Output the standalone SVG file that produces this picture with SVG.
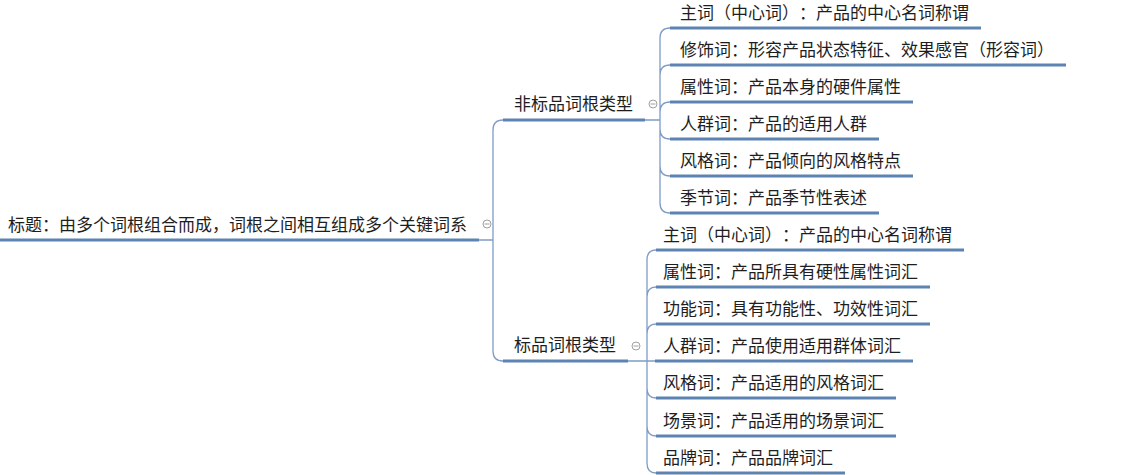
<svg xmlns="http://www.w3.org/2000/svg" width="1130" height="475" viewBox="0 0 1130 475">
<style>
text{font-family:"Noto Sans CJK SC","Microsoft YaHei",sans-serif;font-size:17px;fill:#1e1e1e;text-spacing-trim:space-all}
.ul{stroke:#5d83b3;stroke-width:3;fill:none}
.cn{stroke:#7f9cc6;stroke-width:1.3;fill:none}
.tg{fill:#fff;stroke:#a0a0a0;stroke-width:1}
.tm{stroke:#a0a0a0;stroke-width:1}
</style>
<rect width="1130" height="475" fill="#fff"/>
<g id="connectors">
<path class="cn" d="M479,240 L493,240 M493,240 L493,130 Q493,120 503,120 M493,240 L493,351 Q493,361 503,361"/>
<path class="cn" d="M645,120 L660,120 M660,120 L660,38 Q660,28 670,28 M660,120 L660,75 Q660,65 670,65 M660,120 L660,112 Q660,102 670,102 M660,120 L660,129 Q660,139 670,139 M660,120 L660,166 Q660,176 670,176 M660,120 L660,203 Q660,213 670,213"/>
<path class="cn" d="M628,361 L655,361 M647,361 L647,260 Q647,250 656,250 M647,361 L647,297 Q647,287 656,287 M647,361 L647,334 Q647,324 656,324 M647,361 L647,388 Q647,398 656,398 M647,361 L647,426 Q647,436 656,436 M647,361 L647,463 Q647,473 656,473"/>
</g>
<g id="root">
<text x="8" y="231">标题：由多个词根组合而成，词根之间相互组成多个关键词系</text>
<line class="ul" x1="0" y1="240" x2="479" y2="240"/>
<circle class="tg" cx="487" cy="224" r="4"/><line class="tm" x1="484.5" y1="224" x2="489.5" y2="224"/>
</g>
<g id="branch-nonstandard">
<text x="514" y="110">非标品词根类型</text>
<line class="ul" x1="503" y1="120" x2="645" y2="120"/>
<circle class="tg" cx="653" cy="104" r="4"/><line class="tm" x1="650.5" y1="104" x2="655.5" y2="104"/>
</g>
<g id="branch-standard">
<text x="514" y="351">标品词根类型</text>
<line class="ul" x1="503" y1="361" x2="628" y2="361"/>
<circle class="tg" cx="636" cy="346" r="4"/><line class="tm" x1="633.5" y1="346" x2="638.5" y2="346"/>
</g>
<g id="ns-1"><text x="680" y="19">主词（中心词）：产品的中心名词称谓</text><line class="ul" x1="670" y1="28" x2="981" y2="28"/></g>
<g id="ns-2"><text x="680" y="56">修饰词：形容产品状态特征、效果感官（形容词）</text><line class="ul" x1="670" y1="65" x2="1066" y2="65"/></g>
<g id="ns-3"><text x="680" y="93">属性词：产品本身的硬件属性</text><line class="ul" x1="670" y1="102" x2="913" y2="102"/></g>
<g id="ns-4"><text x="680" y="130">人群词：产品的适用人群</text><line class="ul" x1="670" y1="139" x2="879" y2="139"/></g>
<g id="ns-5"><text x="680" y="167">风格词：产品倾向的风格特点</text><line class="ul" x1="670" y1="176" x2="913" y2="176"/></g>
<g id="ns-6"><text x="680" y="204">季节词：产品季节性表述</text><line class="ul" x1="670" y1="213" x2="879" y2="213"/></g>
<g id="s-1"><text x="663" y="241">主词（中心词）：产品的中心名词称谓</text><line class="ul" x1="656" y1="250" x2="964" y2="250"/></g>
<g id="s-2"><text x="663" y="278">属性词：产品所具有硬性属性词汇</text><line class="ul" x1="656" y1="287" x2="930" y2="287"/></g>
<g id="s-3"><text x="663" y="315">功能词：具有功能性、功效性词汇</text><line class="ul" x1="656" y1="324" x2="930" y2="324"/></g>
<g id="s-4"><text x="663" y="352">人群词：产品使用适用群体词汇</text><line class="ul" x1="655" y1="361" x2="913" y2="361"/></g>
<g id="s-5"><text x="663" y="389">风格词：产品适用的风格词汇</text><line class="ul" x1="656" y1="398" x2="896" y2="398"/></g>
<g id="s-6"><text x="663" y="427">场景词：产品适用的场景词汇</text><line class="ul" x1="656" y1="436" x2="896" y2="436"/></g>
<g id="s-7"><text x="663" y="464">品牌词：产品品牌词汇</text><line class="ul" x1="656" y1="473" x2="845" y2="473"/></g>
</svg>
